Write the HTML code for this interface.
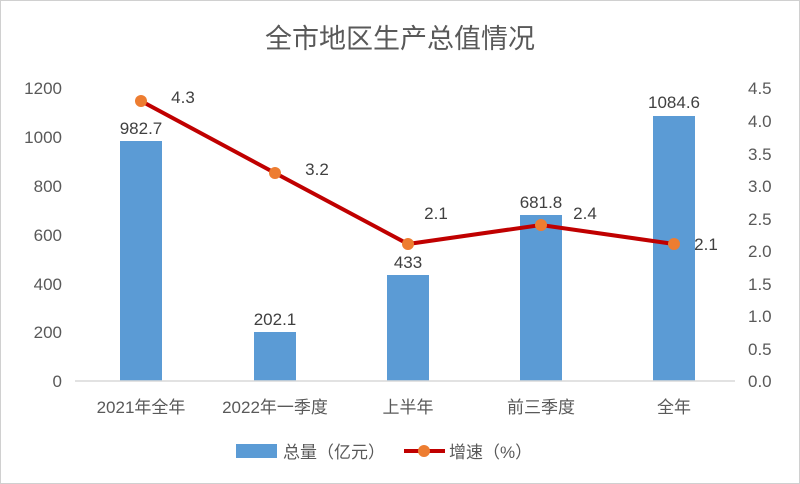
<!DOCTYPE html><html><head><meta charset="utf-8"><style>body{margin:0;background:#fff}svg{display:block}text{font-family:"Liberation Sans","Noto Sans CJK SC",sans-serif;fill:#595959}</style></head><body>
<svg width="800" height="484" viewBox="0 0 800 484">
<rect x="0.5" y="0.5" width="799" height="483" fill="#fff" stroke="#d0d0d0"/>
<text x="400" y="48" font-size="27" text-anchor="middle">全市地区生产总值情况</text>
<g font-size="17" text-anchor="end">
<text x="62" y="387">0</text><text x="62" y="338">200</text><text x="62" y="290">400</text><text x="62" y="241">600</text><text x="62" y="192">800</text><text x="62" y="143">1000</text><text x="62" y="94">1200</text>
</g>
<g font-size="17" text-anchor="start">
<text x="748" y="387">0.0</text><text x="748" y="355">0.5</text><text x="748" y="322">1.0</text><text x="748" y="290">1.5</text><text x="748" y="257">2.0</text><text x="748" y="225">2.5</text><text x="748" y="192">3.0</text><text x="748" y="160">3.5</text><text x="748" y="127">4.0</text><text x="748" y="94">4.5</text>
</g>
<g fill="#5b9bd5">
<rect x="120" y="141" width="42" height="240"/>
<rect x="254" y="332" width="42" height="49"/>
<rect x="387" y="275" width="42" height="106"/>
<rect x="520" y="215" width="42" height="166"/>
<rect x="653" y="116" width="42" height="265"/>
</g>
<line x1="75" y1="381" x2="735" y2="381" stroke="#d9d9d9" stroke-width="1.5"/>
<polyline points="141,101 275,173 408,244 541,225 674,244" fill="none" stroke="#c00000" stroke-width="4"/>
<g fill="#ed7d31"><circle cx="141" cy="101" r="6"/><circle cx="275" cy="173" r="6"/><circle cx="408" cy="244" r="6"/><circle cx="541" cy="225" r="6"/><circle cx="674" cy="244" r="6"/></g>
<g font-size="17" text-anchor="middle" style="fill:#404040">
<text x="141" y="134" style="fill:#404040">982.7</text><text x="275" y="325" style="fill:#404040">202.1</text><text x="408" y="268" style="fill:#404040">433</text><text x="541" y="208" style="fill:#404040">681.8</text><text x="674" y="108" style="fill:#404040">1084.6</text>
<text x="183" y="103" style="fill:#404040">4.3</text><text x="317" y="175" style="fill:#404040">3.2</text><text x="436" y="219" style="fill:#404040">2.1</text><text x="585" y="219" style="fill:#404040">2.4</text><text x="706" y="250" style="fill:#404040">2.1</text>
</g>
<g font-size="17" text-anchor="middle">
<text x="141" y="413">2021年全年</text><text x="275" y="413">2022年一季度</text><text x="408" y="413">上半年</text><text x="541" y="413">前三季度</text><text x="674" y="413">全年</text>
</g>
<rect x="236" y="444" width="41" height="14" fill="#5b9bd5"/>
<text x="283" y="458" font-size="17">总量（亿元）</text>
<line x1="404" y1="451" x2="445" y2="451" stroke="#c00000" stroke-width="4"/>
<circle cx="424" cy="451" r="6" fill="#ed7d31"/>
<text x="449" y="458" font-size="17">增速（%）</text>
</svg></body></html>
